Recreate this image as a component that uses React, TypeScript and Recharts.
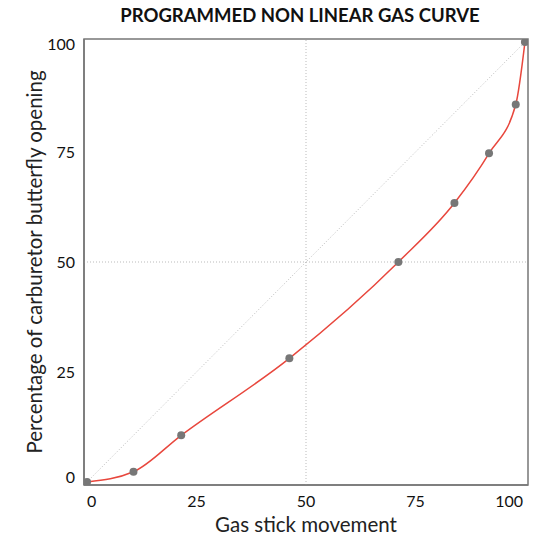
import { LineChart, Line, XAxis, YAxis, ReferenceLine, ReferenceArea } from "recharts";

// values
const gasStick = [0, 10.6, 21.5, 46.2, 71.1, 83.9, 91.8, 97.9, 100];
const butterfly = [0, 2.3, 10.6, 28.1, 50, 63.4, 74.7, 85.8, 100];
const ticks = [0, 25, 50, 75, 100];

const data = gasStick.map((x, i) => ({ x, y: butterfly[i] }));

const FONT = "Lato, 'Open Sans', sans-serif";
const DOMAIN: [number, number] = [-0.7, 100.7];

const XTick = (props: any) => {
  const { x, y, payload } = props;
  const v = payload.value;
  const anchor = v === 0 ? "start" : v === 100 ? "end" : "middle";
  return (
    <text x={x + (v === 100 ? 2 : 0)} y={y + 12} textAnchor={anchor} fontSize={16} fill="#111" fontFamily={FONT}>
      {v}
    </text>
  );
};

const YTick = (props: any) => {
  const { x, y, payload } = props;
  const v = payload.value;
  const shift = v === 0 ? -5 : v === 100 ? 2 : 0;
  return (
    <text x={x} y={y + shift + 6} textAnchor="end" fontSize={16} fill="#111" fontFamily={FONT}>
      {v}
    </text>
  );
};

export default function App() {
  return (
    <div style={{ position: "absolute", left: 0, top: 0, width: 533, height: 537, background: "#fff", fontFamily: FONT }}>
      <div
        style={{
          position: "absolute",
          left: 72,
          width: 456,
          top: 4,
          textAlign: "center",
          fontWeight: 700,
          fontSize: 18.5,
          color: "#111",
        }}
      >
        PROGRAMMED NON LINEAR GAS CURVE
      </div>
      <div
        style={{
          position: "absolute",
          left: 84,
          width: 444,
          top: 512,
          textAlign: "center",
          fontSize: 20.5,
          color: "#222",
        }}
      >
        Gas stick movement
      </div>
      <div
        style={{
          position: "absolute",
          left: 34 - 250,
          top: 262 - 14,
          width: 500,
          height: 28,
          lineHeight: "28px",
          textAlign: "center",
          fontSize: 20.5,
          color: "#222",
          transform: "rotate(-90deg)",
        }}
      >
        Percentage of carburetor butterfly opening
      </div>
      <LineChart width={533} height={537} data={data} margin={{ top: 39, right: 5, bottom: 22, left: 0 }}>
        <XAxis
          dataKey="x"
          type="number"
          domain={DOMAIN}
          ticks={ticks}
          allowDataOverflow
          height={30}
          tickSize={0}
          tickMargin={10}
          tick={<XTick />}
          axisLine={{ stroke: "#777", strokeWidth: 1.5 }}
        />
        <YAxis
          dataKey="y"
          type="number"
          domain={DOMAIN}
          ticks={ticks}
          allowDataOverflow
          width={84}
          tickSize={0}
          tickMargin={9}
          tick={<YTick />}
          axisLine={{ stroke: "#777", strokeWidth: 1.5 }}
        />
        <ReferenceArea x1={DOMAIN[0]} x2={DOMAIN[1]} y1={DOMAIN[0]} y2={DOMAIN[1]} fill="none" stroke="#777" strokeWidth={1.5} />
        <ReferenceLine x={50} stroke="#bbb" strokeDasharray="1 2" />
        <ReferenceLine y={50} stroke="#bbb" strokeDasharray="1 2" />
        <ReferenceLine segment={[{ x: 0, y: 0 }, { x: 100, y: 100 }]} stroke="#bbb" strokeDasharray="1 2" />
        <Line
          type="monotone"
          dataKey="y"
          stroke="#e8473d"
          strokeWidth={1.5}
          dot={{ r: 4, fill: "#777", stroke: "#777", strokeWidth: 0 }}
          isAnimationActive={false}
        />
      </LineChart>
    </div>
  );
}
